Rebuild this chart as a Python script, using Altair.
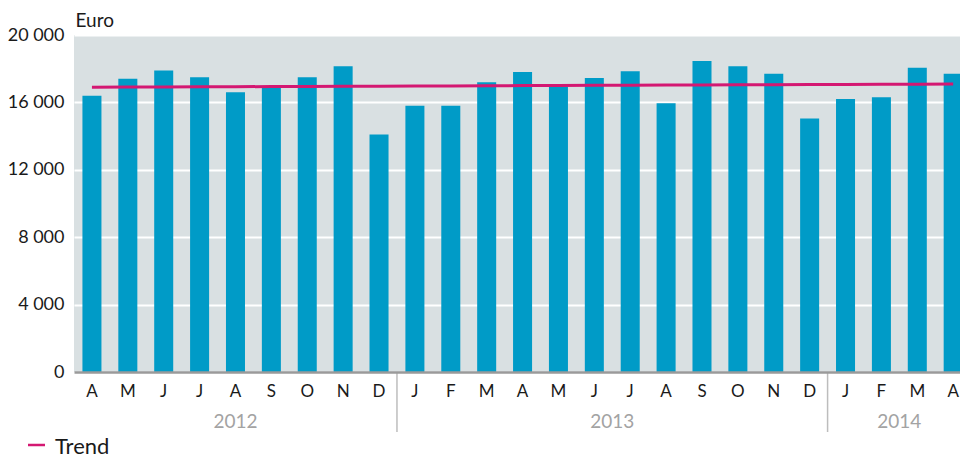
import altair as alt
import pandas as pd

# ---- data ----
months = ["A", "M", "J", "J", "A", "S", "O", "N", "D",
          "J", "F", "M", "A", "M", "J", "J", "A", "S", "O", "N", "D",
          "J", "F", "M", "A"]
month_num = [4, 5, 6, 7, 8, 9, 10, 11, 12,
             1, 2, 3, 4, 5, 6, 7, 8, 9, 10, 11, 12,
             1, 2, 3, 4]
years = ["2012"] * 9 + ["2013"] * 12 + ["2014"] * 4
values = [16400, 17400, 17900, 17500, 16600, 16900, 17500, 18150, 14100,
          15800, 15800, 17200, 17800, 16950, 17450, 17850, 15950, 18450,
          18150, 17700, 15050, 16200, 16300, 18050, 17700]
trend = [16900, 16908, 16916, 16924, 16932, 16940, 16948, 16956, 16964,
         16972, 16980, 16988, 16996, 17004, 17012, 17020, 17028, 17036,
         17044, 17052, 17060, 17068, 17076, 17084, 17092]
y_ticks = [0, 4000, 8000, 12000, 16000, 20000]

df = pd.DataFrame({
    "i": list(range(len(months))),
    "month": months,
    "mnum": month_num,
    "year": years,
    "value": values,
    "trend": trend,
})
legend_df = pd.DataFrame({"label": ["Trend"]})

FONT = "Lato"
W, H = 886, 337

xs = alt.Scale(domain=[-0.5, 24.19], nice=False, zero=False)
ys = alt.Scale(domain=[0, 20000], nice=False)

x_axis = alt.Axis(labels=False, ticks=False, grid=False, title=None,
                  domain=True, domainColor="#9a9a9a", domainWidth=2.5,
                  zindex=1, values=[0])
y_axis = alt.Axis(values=y_ticks,
                  labelExpr="replace(format(datum.value, ','), ',', ' ')",
                  domain=False, ticks=False,
                  grid=True, gridColor="white", gridWidth=2,
                  labelFont=FONT, labelFontSize=18, labelColor="#1a1a1a",
                  labelPadding=10,
                  title="Euro", titleAngle=0, titleAlign="left",
                  titleBaseline="alphabetic", titleX=1, titleY=-9,
                  titleFont=FONT, titleFontSize=19,
                  titleFontWeight="normal", titleColor="#1a1a1a")

base = alt.Chart(df)

bars = base.transform_calculate(
    x0="datum.i - 0.265", x1="datum.i + 0.265"
).mark_bar(color="#009bc7", clip=True).encode(
    x=alt.X("x0:Q", scale=xs, axis=x_axis),
    x2="x1:Q",
    y=alt.Y("value:Q", scale=ys, axis=y_axis),
    y2=alt.datum(0),
)

trend_line = base.mark_line(color="#d41872", strokeWidth=3).encode(
    x=alt.X("i:Q", scale=xs, axis=x_axis),
    y=alt.Y("trend:Q", scale=ys, axis=y_axis),
)

month_text = base.mark_text(font=FONT, fontSize=17, color="#1a1a1a",
                            baseline="alphabetic", align="center").encode(
    x=alt.X("i:Q", scale=xs, axis=x_axis),
    y=alt.value(H + 25),
    text="month:N",
)

year_text = base.transform_aggregate(
    center="mean(i)", groupby=["year"]
).mark_text(font=FONT, fontSize=19, color="#a3a3a3",
            baseline="alphabetic", align="center").encode(
    x=alt.X("center:Q", scale=xs, axis=x_axis),
    y=alt.value(H + 56),
    text="year:N",
)

separators = base.transform_filter("datum.mnum == 1").transform_calculate(
    sx="datum.i - 0.5"
).mark_rule(color="#bdbdbd", strokeWidth=1.5).encode(
    x=alt.X("sx:Q", scale=xs, axis=x_axis),
    y=alt.value(H),
    y2=alt.value(H + 60),
)

legend_rule = alt.Chart(legend_df).mark_rule(color="#d41872", strokeWidth=2.5).encode(
    x=alt.value(-46), x2=alt.value(-29), y=alt.value(H + 73),
)
legend_text = alt.Chart(legend_df).mark_text(
    font=FONT, fontSize=22, color="#1a1a1a", align="left", baseline="alphabetic"
).encode(
    x=alt.value(-19), y=alt.value(H + 82), text="label:N",
)

chart = alt.layer(
    bars, trend_line, separators, month_text, year_text, legend_rule, legend_text
).properties(
    width=W, height=H,
    autosize=alt.AutoSizeParams(type="none"),
    padding={"left": 66, "top": 27, "right": 0, "bottom": 89},
).configure_view(fill="#d9e0e2", stroke=None)

chart.save("out.html", embed_options={"renderer": "svg", "actions": False})
